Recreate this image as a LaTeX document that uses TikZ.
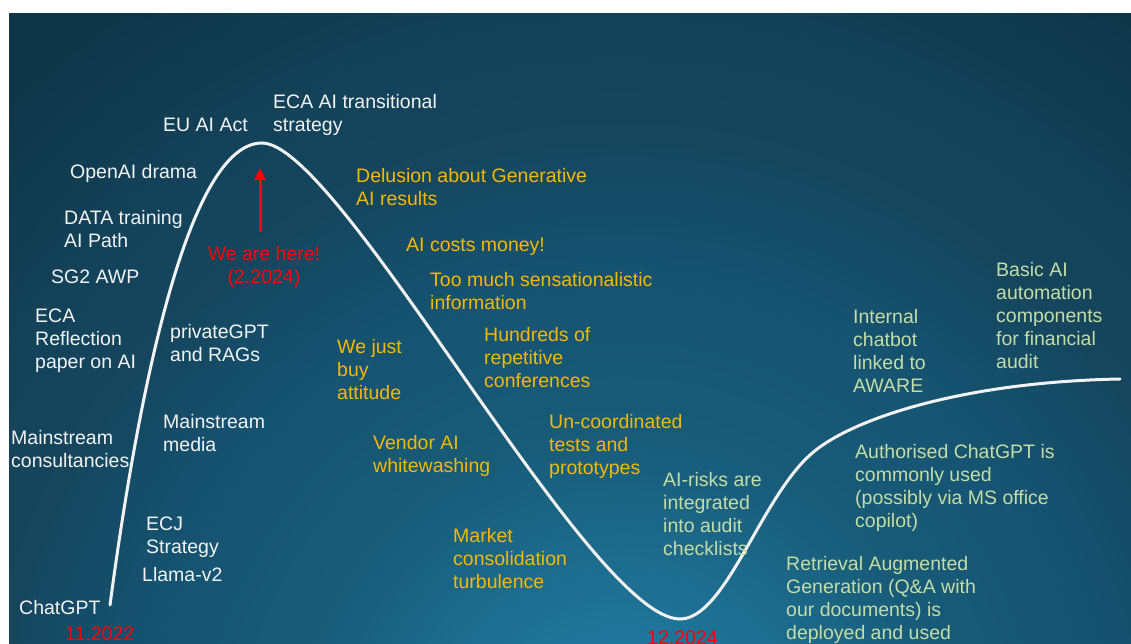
\documentclass[tikz,border=0pt]{standalone}
\usepackage{fontspec}
\setmainfont{Liberation Sans}
\usetikzlibrary{arrows.meta}

\definecolor{hypewhite}{HTML}{F2F2F2}
\definecolor{hypered}{HTML}{FF0000}
\definecolor{slumpyellow}{HTML}{F5B800}
\definecolor{climbgreen}{HTML}{C5DCA5}
\definecolor{glowcore}{HTML}{2688B0}
\definecolor{glowmid}{HTML}{1F7498}
\definecolor{glowlow}{HTML}{185C7A}
\definecolor{glowfar}{HTML}{155270}
\definecolor{glowedge}{HTML}{15465E}
\definecolor{glowtop}{HTML}{13435A}
\definecolor{glowdark}{HTML}{0F3548}

% background glow, brightest near the bottom of the slide
% (the circle below spans 25bp, so 1bp is about 40pt)
\pgfdeclareradialshading{hypeglow}{\pgfpoint{0bp}{0bp}}{color(0bp)=(glowcore); color(3.5bp)=(glowmid); color(8bp)=(glowlow); color(12.5bp)=(glowfar); color(15.5bp)=(glowedge); color(18bp)=(glowtop); color(22.5bp)=(glowdark); color(50bp)=(glowdark)}

\tikzset{
  every node/.style={inner sep=0pt, anchor=north west, align=left, font=\fontsize{19.5}{23}\selectfont},
  hype/.style={text=hypewhite},
  slump/.style={text=slumpyellow},
  climb/.style={text=climbgreen},
  stamp/.style={text=hypered},
}

\begin{document}
\begin{tikzpicture}[x=1pt, y=-1pt]
\useasboundingbox (0,0) rectangle (1131,644);
\fill[white] (0,0) rectangle (1131,644);
\begin{scope}
  \clip (9,14) rectangle (1131,644);
  \shade[shading=hypeglow] (620,760) circle (1000);
\end{scope}

% the hype curve
\draw[hypewhite, line width=3pt, line cap=round]
  (110,605) .. controls (140,380) and (190,143) .. (262,143)
  .. controls (340,143) and (590,619) .. (680,619)
  .. controls (725,619) and (760,500) .. (810,455)
  .. controls (848,420) and (960,382) .. (1120,379);

% where we stand
\coordinate (herefoot) at (260,232);
\coordinate (herehead) at (260,168);
\draw[hypered, line width=3pt, -{Triangle[width=11pt,length=12pt]}] (herefoot) -- (herehead);
\node[stamp, anchor=north, align=center] (here) at (264,246) {We are here!\\(2.2024)};

% rising slope
\node[hype] (eca_strategy) at (273,94) {ECA AI transitional\\strategy};
\node[hype] (eu_act) at (163,118) {EU AI Act};
\node[hype] (openai) at (70,164) {OpenAI drama};
\node[hype] (data_training) at (64,210) {DATA training\\AI Path};
\node[hype] (sg2) at (51,270) {SG2 AWP};
\node[hype] (reflection) at (35,309) {ECA\\Reflection\\paper on AI};
\node[hype] (private_gpt) at (170,324) {privateGPT\\and RAGs};
\node[hype] (consultancies) at (11,430) {Mainstream\\consultancies};
\node[hype] (media) at (163,414) {Mainstream\\media};
\node[hype] (ecj) at (146,517) {ECJ\\Strategy};
\node[hype] (llama) at (142,567) {Llama-v2};
\node[hype] (chatgpt) at (19,600) {ChatGPT};
\node[stamp] (start_date) at (65,627) {11.2022};

% falling slope
\node[slump] (delusion) at (356,168) {Delusion about Generative\\AI results};
\node[slump] (costs) at (406,238) {AI costs money!};
\node[slump] (sensation) at (430,272) {Too much sensationalistic\\information};
\node[slump] (conferences) at (484,327) {Hundreds of\\repetitive\\conferences};
\node[slump] (just_buy) at (337,339) {We just\\buy\\attitude};
\node[slump] (vendor) at (373,435) {Vendor AI\\whitewashing};
\node[slump] (tests) at (549,414) {Un-coordinated\\tests and\\prototypes};
\node[slump] (market) at (453,528) {Market\\consolidation\\turbulence};
\node[stamp] (low_date) at (647,631) {12.2024};

% recovery and plateau
\node[climb] (risks) at (663,472) {AI-risks are\\integrated\\into audit\\checklists};
\node[climb] (chatbot) at (853,309) {Internal\\chatbot\\linked to\\AWARE};
\node[climb] (automation) at (996,262) {Basic AI\\automation\\components\\for financial\\audit};
\node[climb] (authorised) at (855,444) {Authorised ChatGPT is\\commonly used\\(possibly via MS office\\copilot)};
\node[climb] (rag) at (786,556) {Retrieval Augmented\\Generation (Q\&A with\\our documents) is\\deployed and used};
\end{tikzpicture}
\end{document}
